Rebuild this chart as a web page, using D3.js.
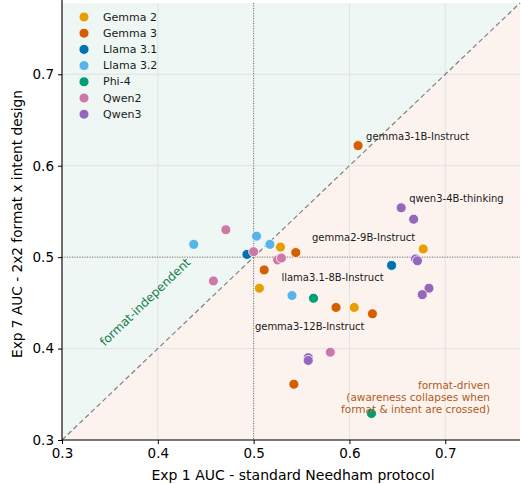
<!DOCTYPE html>
<html><head><meta charset="utf-8">
<script src="https://cdn.jsdelivr.net/npm/d3@7"></script>
<style>body{margin:0;background:#fff}svg{display:block;font-family:"DejaVu Sans",sans-serif}</style>
</head><body><svg id="c" width="521" height="484"></svg>
<script>
const families = ["Gemma 2","Gemma 3","Llama 3.1","Llama 3.2","Phi-4","Qwen2","Qwen3"];
const familyColors = ["#E69F00","#D55E00","#0072B2","#56B4E9","#009E73","#CC79A7","#9467BD"];
const gemma2 = [[0.528,0.511],[0.506,0.466],[0.605,0.445],[0.677,0.509]];
const gemma3 = [[0.609,0.622],[0.544,0.505],[0.511,0.486],[0.586,0.445],[0.624,0.438],[0.542,0.361]];
const llama31 = [[0.493,0.503],[0.644,0.491]];
const llama32 = [[0.4375,0.514],[0.503,0.523],[0.517,0.514],[0.540,0.458]];
const phi4 = [[0.5625,0.455],[0.623,0.329]];
const qwen2 = [[0.471,0.530],[0.500,0.506],[0.525,0.497],[0.529,0.499],[0.458,0.474],[0.580,0.396]];
const qwen3 = [[0.654,0.554],[0.667,0.5415],[0.669,0.498],[0.671,0.496],[0.683,0.466],[0.676,0.459],[0.557,0.390],[0.557,0.387]];
const seriesPoints = [gemma2,gemma3,llama31,llama32,phi4,qwen2,qwen3];
const labelNames = ["gemma3-1B-Instruct","qwen3-4B-thinking","gemma2-9B-Instruct","llama3.1-8B-Instruct","gemma3-12B-Instruct"];
const labelX = [0.609,0.654,0.677,0.644,0.624];
const labelY = [0.622,0.554,0.509,0.491,0.438];
const labelSide = ["right","right","left-up","left-down","left-down"];
const ticks = [0.3,0.4,0.5,0.6,0.7];
const domainMin = 0.3, domainMax = 0.778;

const svg = d3.select("#c");
const L = 62, R = 520, T = 3, B = 440;
const x = d3.scaleLinear().domain([domainMin, domainMax]).range([L, R]);
const y = d3.scaleLinear().domain([domainMin, domainMax]).range([B, T]);

svg.append("path").attr("d", `M${x(domainMin)},${y(domainMin)} L${x(domainMin)},${y(domainMax)} L${x(domainMax)},${y(domainMax)} Z`).attr("fill","#eef7f3");
svg.append("path").attr("d", `M${x(domainMin)},${y(domainMin)} L${x(domainMax)},${y(domainMin)} L${x(domainMax)},${y(domainMax)} Z`).attr("fill","#fcf3ee");

const g = svg.append("g");
ticks.forEach(t => {
  g.append("line").attr("x1",x(t)).attr("x2",x(t)).attr("y1",T).attr("y2",B).attr("stroke","#e2e2e2").attr("stroke-width",1);
  g.append("line").attr("y1",y(t)).attr("y2",y(t)).attr("x1",L).attr("x2",R).attr("stroke","#e2e2e2").attr("stroke-width",1);
});

svg.append("line").attr("x1",x(domainMin)).attr("y1",y(domainMin)).attr("x2",x(domainMax)).attr("y2",y(domainMax))
  .attr("stroke","#808080").attr("stroke-width",1.2).attr("stroke-dasharray","5,3");
svg.append("line").attr("x1",x(0.5)).attr("x2",x(0.5)).attr("y1",T).attr("y2",B).attr("stroke","#666").attr("stroke-width",0.9).attr("stroke-dasharray","1,1.5");
svg.append("line").attr("y1",y(0.5)).attr("y2",y(0.5)).attr("x1",L).attr("x2",R).attr("stroke","#666").attr("stroke-width",0.9).attr("stroke-dasharray","1,1.5");

seriesPoints.forEach((pts, i) => {
  svg.append("g").selectAll("circle").data(pts).join("circle")
    .attr("cx", d => x(d[0])).attr("cy", d => y(d[1])).attr("r", 5)
    .attr("fill", familyColors[i]).attr("stroke","#fff").attr("stroke-width",0.8);
});

labelNames.forEach((n, i) => {
  const px = x(labelX[i]), py = y(labelY[i]);
  const t = svg.append("text").text(n).attr("font-size",10).attr("fill","#1a1a1a").attr("dominant-baseline","middle");
  if (labelSide[i] === "right") t.attr("x", px + 8).attr("y", py - 9);
  else if (labelSide[i] === "left-up") t.attr("x", px - 8).attr("y", py - 11).attr("text-anchor","end");
  else t.attr("x", px - 8).attr("y", py + 13).attr("text-anchor","end");
});

svg.append("text").text("format-independent").attr("transform",`translate(148,305) rotate(-44)`)
  .attr("text-anchor","middle").attr("font-size",12).attr("fill","#137a4c");
const fd = svg.append("text").attr("text-anchor","end").attr("font-size",10.5).attr("fill","#b35a1a");
["format-driven","(awareness collapses when","format & intent are crossed)"].forEach((s, i) => {
  fd.append("tspan").attr("x",490).attr("y",389 + i*12).text(s);
});

const xa = svg.append("g").attr("transform",`translate(0,${B})`).call(d3.axisBottom(x).tickValues(ticks).tickFormat(d3.format(".1f")).tickSize(4).tickPadding(4));
const ya = svg.append("g").attr("transform",`translate(${L},0)`).call(d3.axisLeft(y).tickValues(ticks).tickFormat(d3.format(".1f")).tickSize(4).tickPadding(4));
[xa, ya].forEach(a => {
  a.select(".domain").attr("stroke","#000").attr("stroke-width",1.1);
  a.selectAll(".tick line").attr("stroke","#000").attr("stroke-width",1);
  a.selectAll(".tick text").attr("font-size",13.5).attr("fill","#000").attr("font-family","DejaVu Sans");
});
xa.select(".domain").attr("d", `M${L},0H${R}`);
ya.select(".domain").attr("d", `M0,${B}V${T-3}`);

svg.append("text").text("Exp 1 AUC - standard Needham protocol").attr("x",293).attr("y",480)
  .attr("text-anchor","middle").attr("font-size",14);
svg.append("text").text("Exp 7 AUC - 2x2 format x intent design").attr("transform",`translate(22,224) rotate(-90)`)
  .attr("text-anchor","middle").attr("font-size",13.7);

const lg = svg.append("g");
families.forEach((f, i) => {
  const ly = 17 + i * 16.2;
  lg.append("circle").attr("cx",84).attr("cy",ly).attr("r",5).attr("fill",familyColors[i]).attr("stroke","#fff").attr("stroke-width",0.8);
  lg.append("text").text(f).attr("x",103).attr("y",ly).attr("dominant-baseline","central").attr("font-size",11).attr("fill","#1a1a1a");
});
</script>
</body></html>
